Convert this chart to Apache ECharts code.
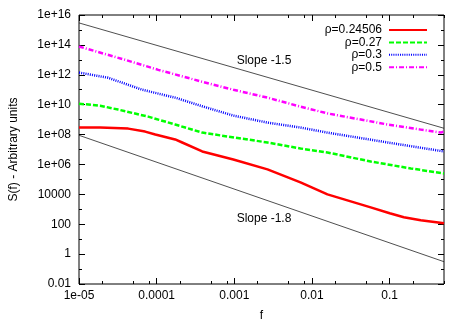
<!DOCTYPE html>
<html>
<head>
<meta charset="utf-8">
<script src="https://cdn.jsdelivr.net/npm/echarts@6/dist/echarts.min.js"></script>
<style>
html,body{margin:0;padding:0;background:#fff}
#main{width:467px;height:327px}
</style>
</head>
<body>
<div id="main"></div>
<script>
// values (f, S(f))
var fRed = [1e-5, 1.87e-5, 4.3e-5, 7.1e-5, 9.6e-5, 1.73e-4, 2.13e-4, 3.86e-4, 9.7e-4, 2.67e-3, 7.1e-3, 1.58e-2, 5.69e-2, 0.1, 0.152, 0.251, 0.5];
var sRed = [2.95e8, 2.95e8, 2.5e8, 1.58e8, 1e8, 4.7e7, 2.95e7, 7.4e6, 2.14e6, 4.7e5, 6.3e4, 1e4, 1350, 537, 295, 186, 117];

var fGreen = [1e-5, 1.87e-5, 3.18e-5, 7.76e-5, 1.73e-4, 3.86e-4, 1e-3, 2.67e-3, 7.1e-3, 1.58e-2, 5.69e-2, 0.187, 0.5];
var sGreen = [1.17e10, 8.5e9, 4.7e9, 1.58e9, 4.7e8, 1.35e8, 6.3e7, 2.95e7, 1.17e7, 6.3e6, 1.58e6, 5.4e5, 2.5e5];

var fBlue = [1e-5, 2.37e-5, 6.5e-5, 1.73e-4, 3.86e-4, 9.7e-4, 2.67e-3, 7.1e-3, 1.58e-2, 9.42e-2, 0.5];
var sBlue = [1.41e12, 6.3e11, 1e11, 2.95e10, 7.8e9, 1.86e9, 6.3e8, 2.95e8, 1.35e8, 2.95e7, 7.4e6];

var fMag = [1e-5, 3.93e-5, 1.05e-4, 3.86e-4, 9.7e-4, 2.67e-3, 7.1e-3, 1.58e-2, 9.42e-2, 0.251, 0.455, 0.5];
var sMag = [7.8e13, 1e13, 2.14e12, 3.4e11, 1e11, 2.95e10, 7.4e9, 2.6e9, 4.7e8, 2.14e8, 1.35e8, 1.58e8];

// reference slope lines (end points)
var fSlope = [1e-5, 0.5];
var sSlope15 = [2.95e15, 2.63e8];
var sSlope18 = [8.9e7, 0.31];

var names = ['ρ=0.24506', 'ρ=0.27', 'ρ=0.3', 'ρ=0.5'];

// tick values
var xMajor = [1e-5, 1e-4, 1e-3, 1e-2, 1e-1];
var xMinor = [2e-5, 5e-5, 8e-5, 2e-4, 5e-4, 8e-4, 2e-3, 5e-3, 8e-3, 2e-2, 5e-2, 8e-2, 0.2, 0.5];
var yMajor = [1e-2, 1, 1e2, 1e4, 1e6, 1e8, 1e10, 1e12, 1e14, 1e16];
var yMinor = [1e-1, 1e1, 1e3, 1e5, 1e7, 1e9, 1e11, 1e13, 1e15];

function pairs(f, s) {
	return f.map(function (x, i) { return [x, s[i]]; });
}

// gnuplot-like %g
function gfmt(v) {
	var e = Math.round(Math.log10(v));
	if (e < -4 || e >= 6) {
		var a = Math.abs(e);
		return '1e' + (e < 0 ? '-' : '+') + (a < 10 ? '0' + a : a);
	}
	return String(Number(v.toPrecision(6)));
}

var font = 'Liberation Sans';

function xAx(pos, ticks, len, labels) {
	return {
		type: 'log', min: 1e-5, max: 0.5, position: pos,
		axisLine: { show: false },
		splitLine: { show: false },
		axisTick: { show: true, inside: true, length: len, customValues: ticks, lineStyle: { color: '#000' } },
		axisLabel: labels ? { show: true, customValues: ticks, formatter: gfmt, margin: 6, color: '#000', fontFamily: font, fontSize: 12 } : { show: false }
	};
}
function yAx(pos, ticks, len, labels) {
	return {
		type: 'log', min: 1e-2, max: 1e16, position: pos,
		axisLine: { show: false },
		splitLine: { show: false },
		axisTick: { show: true, inside: true, length: len, customValues: ticks, lineStyle: { color: '#000' } },
		axisLabel: labels ? { show: true, customValues: ticks, formatter: gfmt, margin: 8, color: '#000', fontFamily: font, fontSize: 12 } : { show: false }
	};
}

var xAxes = [xAx('bottom', xMajor, 6, true), xAx('bottom', xMinor, 3, false), xAx('top', xMajor, 6, false), xAx('top', xMinor, 3, false)];
xAxes[0].name = 'f';
xAxes[0].nameLocation = 'middle';
xAxes[0].nameGap = 26;
xAxes[0].nameTextStyle = { color: '#000', fontFamily: font, fontSize: 12 };

var yAxes = [yAx('left', yMajor, 6, true), yAx('left', yMinor, 3, false), yAx('right', yMajor, 6, false), yAx('right', yMinor, 3, false)];
yAxes[0].name = 'S(f) - Arbitrary units';
yAxes[0].nameLocation = 'middle';
yAxes[0].nameGap = 59;
yAxes[0].nameTextStyle = { color: '#000', fontFamily: font, fontSize: 12 };

function curve(name, data, color, dash) {
	return {
		name: name, type: 'line', data: data, symbol: 'none',
		lineStyle: { color: color, width: 2.5, type: dash, join: 'round' },
		itemStyle: { color: color }
	};
}
function slope(data) {
	return {
		type: 'line', data: data, symbol: 'none', silent: true,
		lineStyle: { color: '#222', width: 0.8 }
	};
}

var myChart = echarts.init(document.getElementById('main'));
var option = {
	animation: false,
	grid: { left: 79, right: 23, top: 15, bottom: 42, show: true, borderColor: '#000', borderWidth: 1, backgroundColor: 'transparent' },
	textStyle: { fontFamily: font },
	legend: {
		data: names,
		orient: 'vertical',
		align: 'right',
		right: 39,
		top: 24,
		padding: 0,
		itemWidth: 38,
		itemHeight: 12,
		itemGap: 0.4,
		itemStyle: { opacity: 0 },
		textStyle: { color: '#000', fontFamily: font, fontSize: 12, padding: [0, 2, 0, 0] }
	},
	xAxis: xAxes,
	yAxis: yAxes,
	graphic: [
		{ type: 'text', x: 264, y: 61, style: { text: 'Slope -1.5', fill: '#000', font: '12px Liberation Sans', align: 'center', verticalAlign: 'middle' } },
		{ type: 'text', x: 264, y: 219, style: { text: 'Slope -1.8', fill: '#000', font: '12px Liberation Sans', align: 'center', verticalAlign: 'middle' } }
	],
	series: [
		slope(pairs(fSlope, sSlope15)),
		slope(pairs(fSlope, sSlope18)),
		curve(names[0], pairs(fRed, sRed), '#ff0000', 'solid'),
		curve(names[1], pairs(fGreen, sGreen), '#00ff00', [5, 2]),
		curve(names[2], pairs(fBlue, sBlue), '#0000ff', [1, 1.2]),
		curve(names[3], pairs(fMag, sMag), '#ff00ff', [5, 2, 1, 2])
	]
};
myChart.setOption(option);
</script>
</body>
</html>
